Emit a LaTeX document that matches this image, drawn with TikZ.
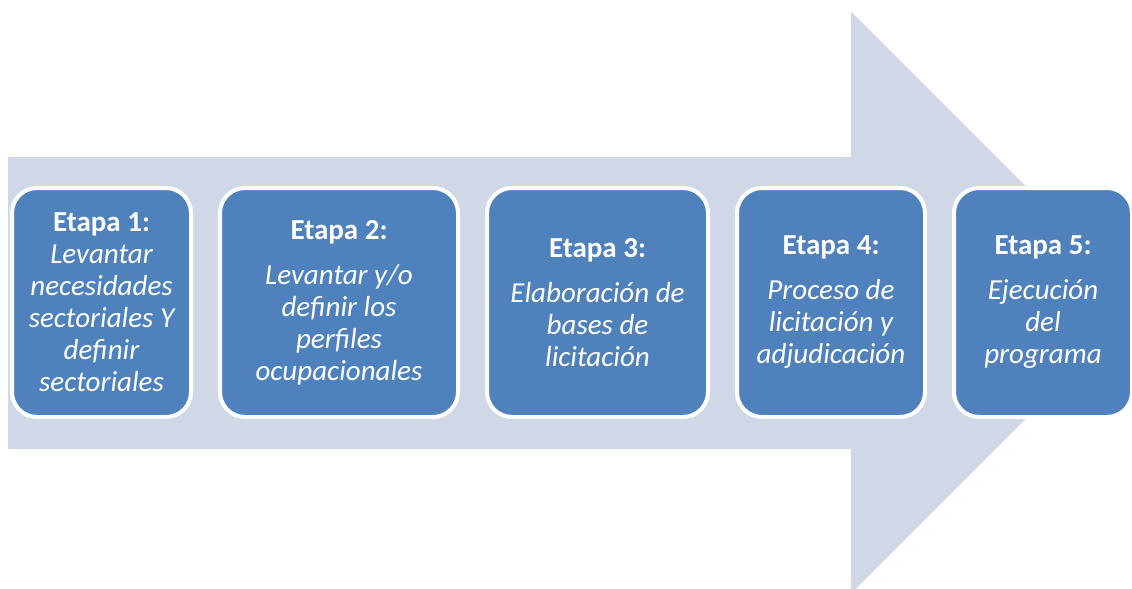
\documentclass[tikz,border=0pt]{standalone}
\usepackage{fontspec}
\setmainfont{Carlito}
\usetikzlibrary{positioning}
\definecolor{etapablue}{HTML}{4F81BD}
\definecolor{flecha}{HTML}{D0D8E8}

\begin{document}
\begin{tikzpicture}[x=0.5pt,y=-0.5pt]
  % etapa = one stage box on the big arrow
  \tikzset{etapa/.style={rectangle, rounded corners=12.5pt, fill=etapablue, draw=white,
      line width=2pt, minimum height=114.5pt, inner sep=1pt, align=center,
      text=white, font=\fontsize{14.5}{16}\selectfont},
    node distance=12.5pt}
  \clip (0,0) rectangle (1132,589);
  \fill[flecha] (8,157) -- (851,157) -- (851,11.5) -- (1142,302.5)
    -- (851,593.5) -- (851,449) -- (8,449) -- cycle;

  \node[etapa, minimum width=89.5pt] (E1) at (101.5,302.5)
    {{\bfseries Etapa 1:}\\ \itshape Levantar\\ \itshape necesidades\\
     \itshape sectoriales Y\\ \itshape definir\\ \itshape sectoriales};
  \node[etapa, minimum width=119pt, right=of E1] (E2)
    {{\bfseries Etapa 2:}\\[6.5pt] \itshape Levantar y/o\\ \itshape definir los\\
     \itshape perfiles\\ \itshape ocupacionales};
  \node[etapa, minimum width=110.5pt, right=of E2] (E3)
    {{\bfseries Etapa 3:}\\[6.5pt] \itshape Elaboración de\\ \itshape bases de\\
     \itshape licitación};
  \node[etapa, minimum width=94pt, right=of E3] (E4)
    {{\bfseries Etapa 4:}\\[6.5pt] \itshape Proceso de\\ \itshape licitación y\\
     \itshape adjudicación};
  \node[etapa, minimum width=89pt, right=of E4] (E5)
    {{\bfseries Etapa 5:}\\[6.5pt] \itshape Ejecución\\ \itshape del\\
     \itshape programa};
\end{tikzpicture}
\end{document}
